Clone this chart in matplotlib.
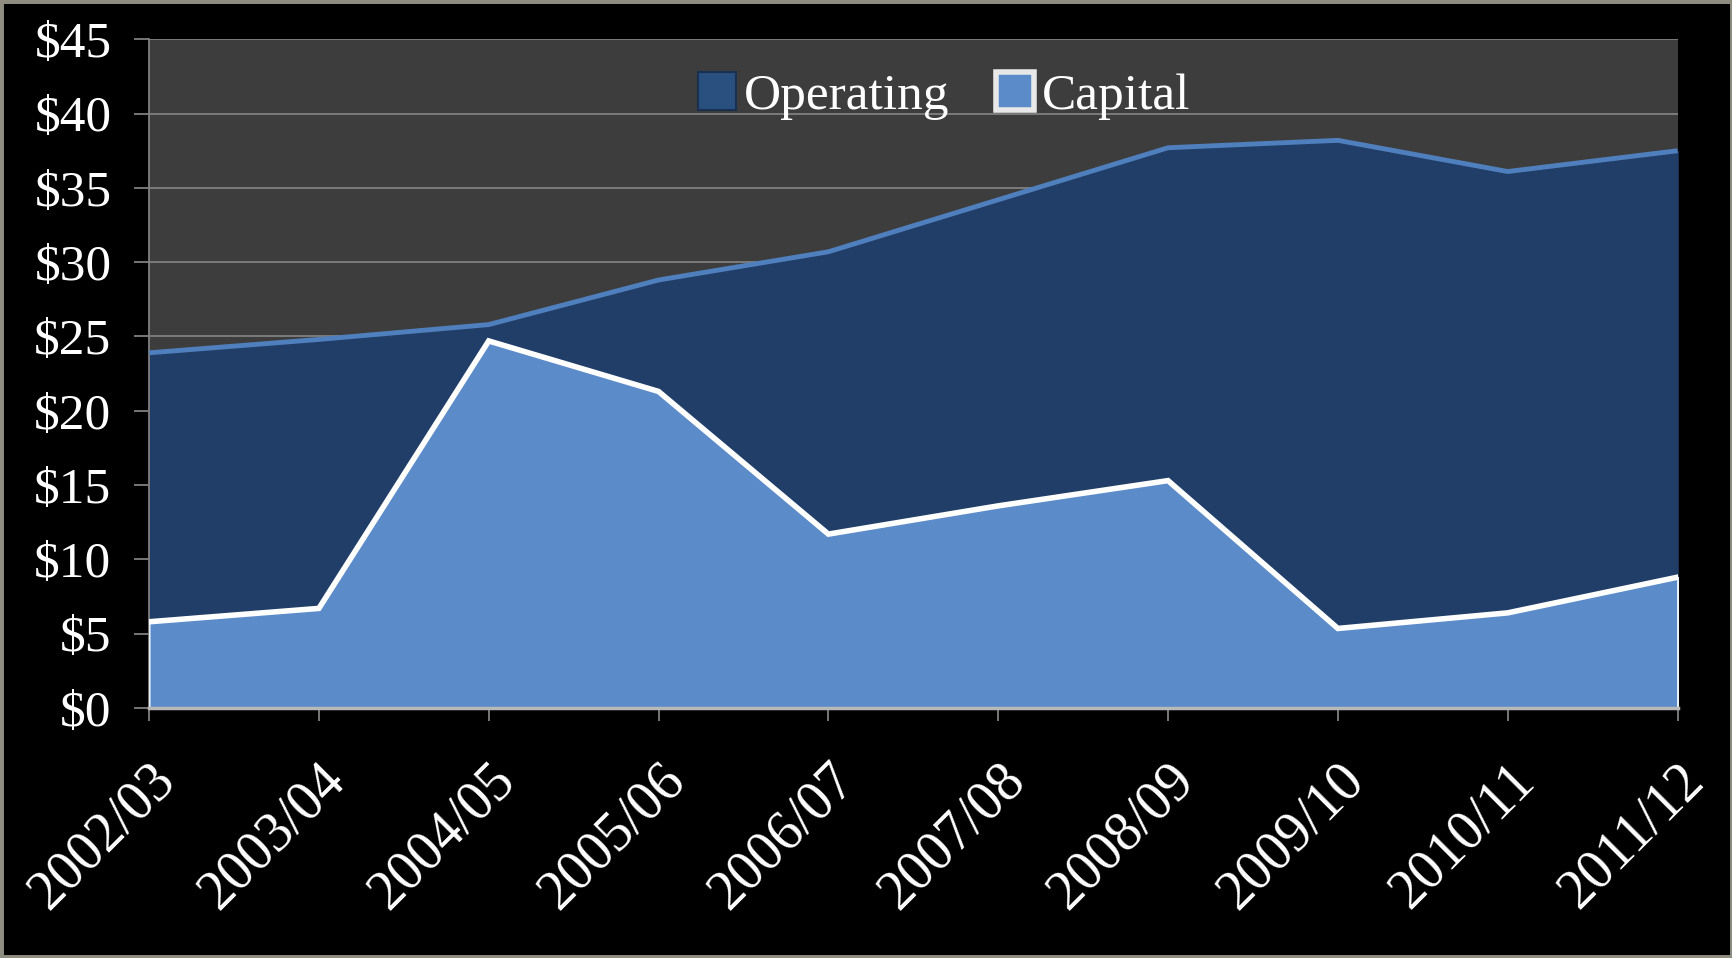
import matplotlib.pyplot as plt
from matplotlib.patches import Patch, Rectangle
import numpy as np

years = ["2002/03", "2003/04", "2004/05", "2005/06", "2006/07",
         "2007/08", "2008/09", "2009/10", "2010/11", "2011/12"]
operating = [23.9, 24.8, 25.8, 28.8, 30.7, 34.2, 37.7, 38.2, 36.1, 37.5]
capital = [5.8, 6.7, 24.7, 21.3, 11.7, 13.6, 15.3, 5.35, 6.4, 8.8]

plt.rcParams['font.family'] = ['Liberation Serif', 'DejaVu Serif']

fig = plt.figure(figsize=(17.33, 9.58), dpi=100, facecolor="black")
ax = fig.add_axes([0.086, 0.261, 0.882, 0.698])
ax.set_facecolor("#3d3d3d")

x = np.arange(len(years))

# operating area (behind)
ax.fill_between(x, 0, operating, color="#203e68", zorder=2)
ax.plot(x, operating, color="#4f7fbd", lw=3.5, zorder=3, solid_capstyle="butt")

# capital area (front)
ax.fill_between(x, 0, capital, facecolor="#5b8bc9", edgecolor="#e6eef8",
                lw=1.5, zorder=4)
ax.plot(x, capital, color="white", lw=4, zorder=5, solid_joinstyle="miter")

ax.set_xlim(0, len(years) - 1)
ax.set_ylim(0, 45)
ax.set_yticks(np.arange(0, 46, 5))
ax.set_yticklabels([f"${v}" for v in range(0, 46, 5)])
ax.set_xticks(x)
ax.set_xticklabels(years, rotation=45, ha="right", va="top", rotation_mode="anchor")

ax.grid(axis="y", color="#808080", lw=1.3, zorder=1)
ax.set_axisbelow(True)
for s in ["top", "right"]:
    ax.spines[s].set_visible(False)
ax.spines["left"].set_color("#808080")
ax.spines["left"].set_linewidth(1.3)
ax.spines["bottom"].set_color("#b8b8b8")
ax.spines["bottom"].set_linewidth(2.5)
ax.spines["bottom"].set_zorder(6)

ax.tick_params(axis="y", colors="#808080", length=11, width=1.3,
               labelcolor="white", labelsize=37, pad=16)
ax.tick_params(axis="x", colors="#808080", length=9, width=1.3,
               labelcolor="white", labelsize=40, pad=24)

handles = [Patch(facecolor="#2a5080", edgecolor="#1a3050", lw=1.5, label="Operating"),
           Patch(facecolor="#5b8bc9", edgecolor="#e8e8e8", lw=4, label="Capital")]
leg = ax.legend(handles=handles, loc="upper center", bbox_to_anchor=(0.52, 1.02),
                ncol=2, frameon=False, fontsize=37, labelcolor="white",
                handlelength=0.75, handleheight=0.75, handletextpad=0.15,
                columnspacing=0.9)

fig.patches.append(Rectangle((0, 0), 1, 1, transform=fig.transFigure,
                             facecolor="none", edgecolor="#8f8c80", lw=5))

fig.savefig("out.png", dpi=100, facecolor="black")
